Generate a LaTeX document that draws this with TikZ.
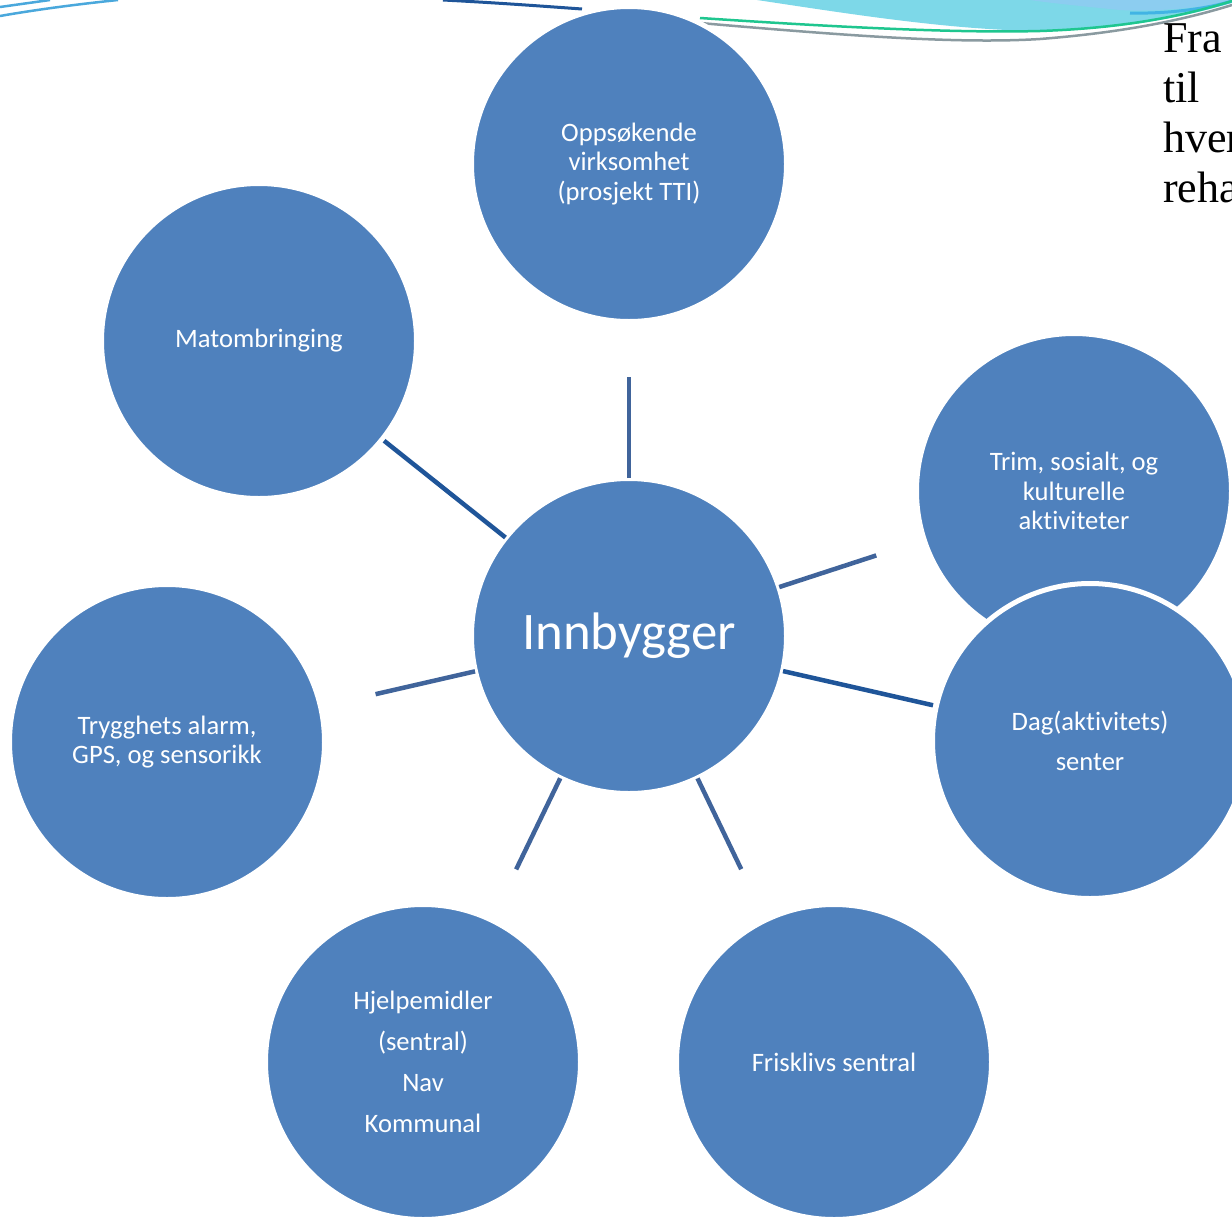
\documentclass[tikz,border=0pt]{standalone}
\usepackage{fontspec}
\setmainfont{Carlito}[Ligatures=NoCommon]
\newfontfamily\titleserif{Liberation Serif}
\definecolor{circblue}{HTML}{4F81BD}
\definecolor{spokeblue}{RGB}{64,100,155}
\definecolor{spokedark}{RGB}{31,85,153}
\definecolor{decocyan}{HTML}{7DD8E8}
\definecolor{decolight}{HTML}{8CCDF0}
\definecolor{decostripe}{HTML}{41B4E4}
\definecolor{decogreen}{HTML}{1FC68F}
\definecolor{decogray}{HTML}{8A9AA0}
\definecolor{decoblue}{HTML}{4AA8DC}
\tikzset{
  bubble/.style={circle, fill=circblue, draw=white, line width=5pt,
    minimum size=315pt, inner sep=0pt, outer sep=0pt, text=white,
    align=center, font=\fontsize{26.6}{29.5}\selectfont},
  spoke/.style={draw=spokeblue, line width=4.5pt, shorten <=0.5pt},
  spokedk/.style={draw=spokedark, line width=4.5pt, shorten <=0.5pt},
  sidetext/.style={anchor=base west, inner sep=0pt, font=\titleserif\fontsize{44}{50}\selectfont}
}
\begin{document}
\begin{tikzpicture}[x=1pt,y=-1pt]
\useasboundingbox (0,0) rectangle (1232,1216);
\fill[white] (0,0) rectangle (1232,1216);
% decorative swooshes
\fill[decocyan] (757,0) -- (1232,0) -- (1232,3)
  .. controls (1180,18) and (1120,30) .. (1040,31)
  .. controls (950,30) and (850,14) .. (757,0) -- cycle;
\fill[decolight] (1030,0) -- (1232,0) -- (1232,2)
  .. controls (1200,8) and (1150,12) .. (1120,10)
  .. controls (1080,6) and (1050,3) .. (1030,0) -- cycle;
\draw[decostripe, line width=3pt] (1130,13) .. controls (1170,14) and (1210,8) .. (1232,1);
\draw[decogreen, line width=2.5pt] (700,18) .. controls (850,28) and (960,33) .. (1040,31)
  .. controls (1130,28) and (1190,14) .. (1232,1);
\draw[decogray, line width=2.5pt] (700,23) .. controls (850,36) and (960,44) .. (1040,39)
  .. controls (1130,32) and (1190,18) .. (1232,5);
\draw[decoblue, line width=2.5pt] (0,7) -- (50,0);
\draw[decoblue, line width=2.5pt] (0,16) .. controls (40,9) and (80,4) .. (118,0);
\draw[spokedark, line width=3pt] (443,0) .. controls (500,3) and (540,6) .. (582,9);
% circles
\node[bubble] (top) at (629,164) {Oppsøkende\\virksomhet\\(prosjekt TTI)};
\node[bubble] (mat) at (259,341) {Matombringing};
\node[bubble] (trim) at (1074,491) {Trim, sosialt, og\\kulturelle\\aktiviteter};
\node[bubble] (dag) at (1090,741) {Dag(aktivitets)\\[10.5pt]senter};
\node[bubble] (tryg) at (167,742) {Trygghets alarm,\\GPS, og sensorikk};
\node[bubble] (hjelp) at (423,1062) {Hjelpemidler\\[11.5pt](sentral)\\[11pt]Nav\\[11.5pt]Kommunal};
\node[bubble] (frisk) at (834,1062) {Frisklivs sentral};
\node[bubble, font=\fontsize{52.8}{60}\selectfont] (inn) at (629,636) {Innbygger};
% spokes
\draw[spoke, shorten >=55.5pt] (inn) -- (top);
\draw[spokedk, shorten >=2.5pt] (inn) -- (mat);
\draw[spoke, shorten >=50.5pt] (inn) -- (trim);
\draw[spokedk, shorten >=3.5pt] (inn) -- (dag);
\draw[spoke, shorten >=56.5pt] (inn) -- (tryg);
\draw[spoke, shorten >=56.5pt] (inn) -- (hjelp);
\draw[spoke, shorten >=56.5pt] (inn) -- (frisk);
% side text (cut off at the right edge, as in the original)
\node[sidetext] (t1) at (1163,52) {Fra};
\node[sidetext] (t2) at (1163,102) {til};
\node[sidetext] (t3) at (1163,152) {hver};
\node[sidetext] (t4) at (1163,202) {reha};
\end{tikzpicture}
\end{document}
